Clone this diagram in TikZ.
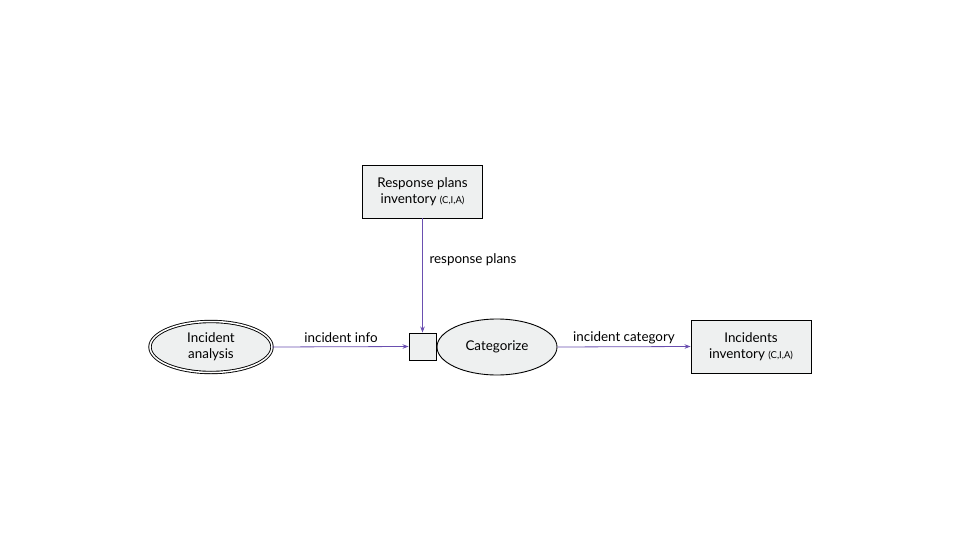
\documentclass[tikz,border=0pt]{standalone}
\usepackage{fontspec}
\setmainfont{Lato}
\usetikzlibrary{shapes.geometric,arrows.meta}
\definecolor{boxfill}{HTML}{EEF0F0}
\definecolor{arr}{HTML}{6A4FB0}
\begin{document}
\begin{tikzpicture}[x=1pt,y=-1pt,
  every node/.style={font=\fontsize{13.4}{16}\selectfont},
  store/.style={draw=black,line width=0.9pt,fill=boxfill,minimum width=120pt,minimum height=53pt,align=center,inner sep=0pt},
  proc/.style={draw=black,line width=0.9pt,fill=boxfill,ellipse,minimum width=120pt,minimum height=56pt,inner sep=0pt,align=center},
  ext/.style={draw=black,line width=0.9pt,fill=boxfill,ellipse,double,double distance=1.5pt,minimum width=122pt,minimum height=51pt,inner sep=0pt,align=center},
  junc/.style={draw=black,line width=0.9pt,fill=boxfill,minimum width=27pt,minimum height=27pt,inner sep=0pt},
  flow/.style={draw=arr,line width=0.8pt,-{Stealth[length=6pt,width=4.5pt]}},
  lbl/.style={font=\fontsize{13.4}{16}\selectfont}
]
\useasboundingbox (0,0) rectangle (960,540);
\newcommand{\cia}{{\fontsize{9.5}{11}\selectfont(C,I,A)}}
\node[ext] (ia) at (211,347) {Incident\\analysis};
\node[junc] (j) at (422.5,346.5) {};
\node[proc] (cat) at (497,347) {Categorize};
\node[store] (rp) at (422.5,191.5) {Response plans\\inventory \cia};
\node[store] (ii) at (751,346.5) {Incidents\\inventory \cia};
\draw[flow] (ia.east) -- (j.west);
\draw[flow] (rp.south) -- (j.north);
\draw[flow] (cat.east) -- (ii.west);
\node[lbl] (l1) at (341,337.5) {incident info};
\node[lbl] (l2) at (473,260) {response plans};
\node[lbl] (l3) at (624,337.5) {incident category};
\end{tikzpicture}
\end{document}
